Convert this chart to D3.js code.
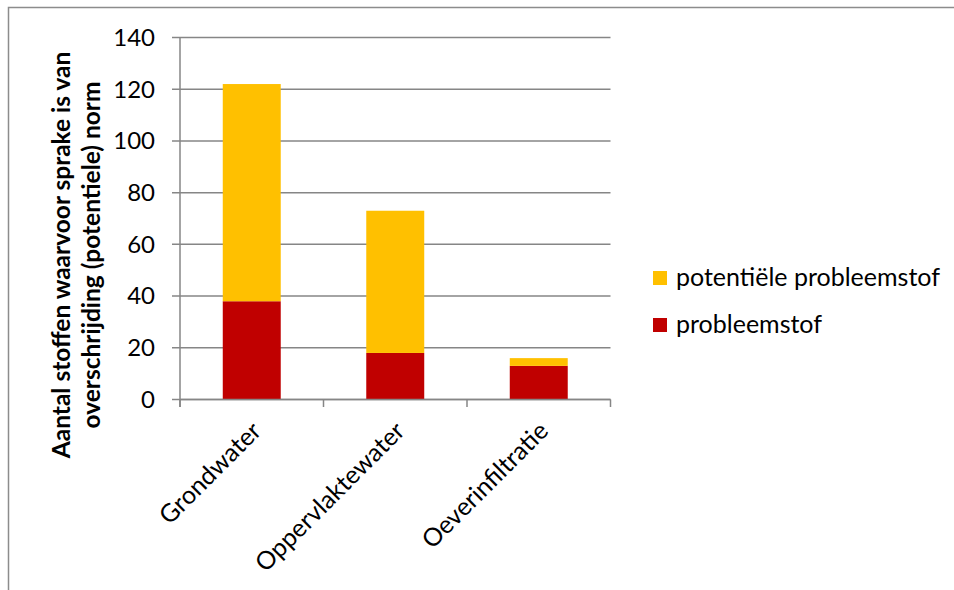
<!DOCTYPE html>
<html><head><meta charset="utf-8">
<script src="https://cdn.jsdelivr.net/npm/d3@7"></script>
<style>body{margin:0;background:#fff}svg{display:block}text{font-family:Lato,'Open Sans',sans-serif;fill:#000}</style>
</head><body><svg id="c" width="954" height="590"></svg>
<script>
const categories = ["Grondwater", "Oppervlaktewater", "Oeverinfiltratie"];
const probleemstof = [38, 18, 13];
const potentieleTotaal = [122, 73, 16];
const potentiele = potentieleTotaal.map((t, i) => t - probleemstof[i]);
const seriesNames = ["probleemstof", "potentiële probleemstof"];
const seriesColors = ["#C00000", "#FFC000"];
const yTicks = [0, 20, 40, 60, 80, 100, 120, 140];
const yTitle = ["Aantal stoffen waarvoor sprake is van", "overschrijding (potentiele) norm"];

(function () {
const svg = d3.select("#c");
svg.append("rect").attr("x", 8.5).attr("y", 7.5).attr("width", 960).attr("height", 600)
  .attr("fill", "none").attr("stroke", "#8c8c8c").attr("stroke-width", 1.5);

const pLeft = 180, pRight = 610.5, pTop = 37.5, pBottom = 399.5;
const x = d3.scaleBand().domain(categories).range([pLeft, pRight]).padding(0);
const y = d3.scaleLinear().domain([0, 140]).range([pBottom, pTop]);
const barW = x.bandwidth() * 0.404;

svg.append("g").selectAll("line").data(yTicks).join("line")
  .attr("x1", pLeft - 8).attr("x2", pRight).attr("y1", d => y(d)).attr("y2", d => y(d))
  .attr("stroke", "#868686").attr("stroke-width", 1.5);

const rows = categories.map((c, i) => ({cat: c, probleemstof: probleemstof[i], potentiele: potentiele[i]}));
const stack = d3.stack().keys(["probleemstof", "potentiele"])(rows);
svg.append("g").selectAll("g").data(stack).join("g").attr("fill", (d, i) => seriesColors[i])
  .selectAll("rect").data(d => d).join("rect")
  .attr("x", d => x(d.data.cat) + (x.bandwidth() - barW) / 2)
  .attr("width", barW)
  .attr("y", d => y(d[1])).attr("height", d => y(d[0]) - y(d[1]));

svg.append("line").attr("x1", pLeft).attr("x2", pLeft).attr("y1", pTop).attr("y2", pBottom + 7.5)
  .attr("stroke", "#868686").attr("stroke-width", 1.5);
svg.append("line").attr("x1", pLeft).attr("x2", pRight).attr("y1", pBottom).attr("y2", pBottom)
  .attr("stroke", "#868686").attr("stroke-width", 1.5);
const xt = categories.map(c => x(c)).concat([pRight]);
svg.append("g").selectAll("line").data(xt).join("line")
  .attr("x1", d => d).attr("x2", d => d).attr("y1", pBottom).attr("y2", pBottom + 7.5)
  .attr("stroke", "#868686").attr("stroke-width", 1.5);

svg.append("g").selectAll("text").data(yTicks).join("text")
  .attr("x", 155).attr("y", d => y(d)).attr("dy", "0.35em").attr("text-anchor", "end")
  .attr("font-size", 24).text(d => d);

svg.append("g").selectAll("text").data(categories).join("text")
  .attr("transform", c => `translate(${x(c) + x.bandwidth() / 2 + 11},${pBottom + 33}) rotate(-45)`)
  .attr("text-anchor", "end").attr("font-size", 25).text(c => c);

const yt = svg.append("text").attr("transform", `translate(0,255) rotate(-90)`)
  .attr("text-anchor", "middle").attr("font-size", 24.5).attr("font-weight", "bold");
yTitle.forEach((t, i) => yt.append("tspan").attr("x", 0).attr("y", 70 + i * 30).text(t));

const legend = [{name: seriesNames[1], color: seriesColors[1]}, {name: seriesNames[0], color: seriesColors[0]}];
const lg = svg.append("g").selectAll("g").data(legend).join("g")
  .attr("transform", (d, i) => `translate(653,${271 + i * 47})`);
lg.append("rect").attr("width", 14).attr("height", 14).attr("fill", d => d.color);
lg.append("text").attr("x", 23).attr("y", 15).attr("font-size", 25).text(d => d.name);
})();
</script></body></html>
